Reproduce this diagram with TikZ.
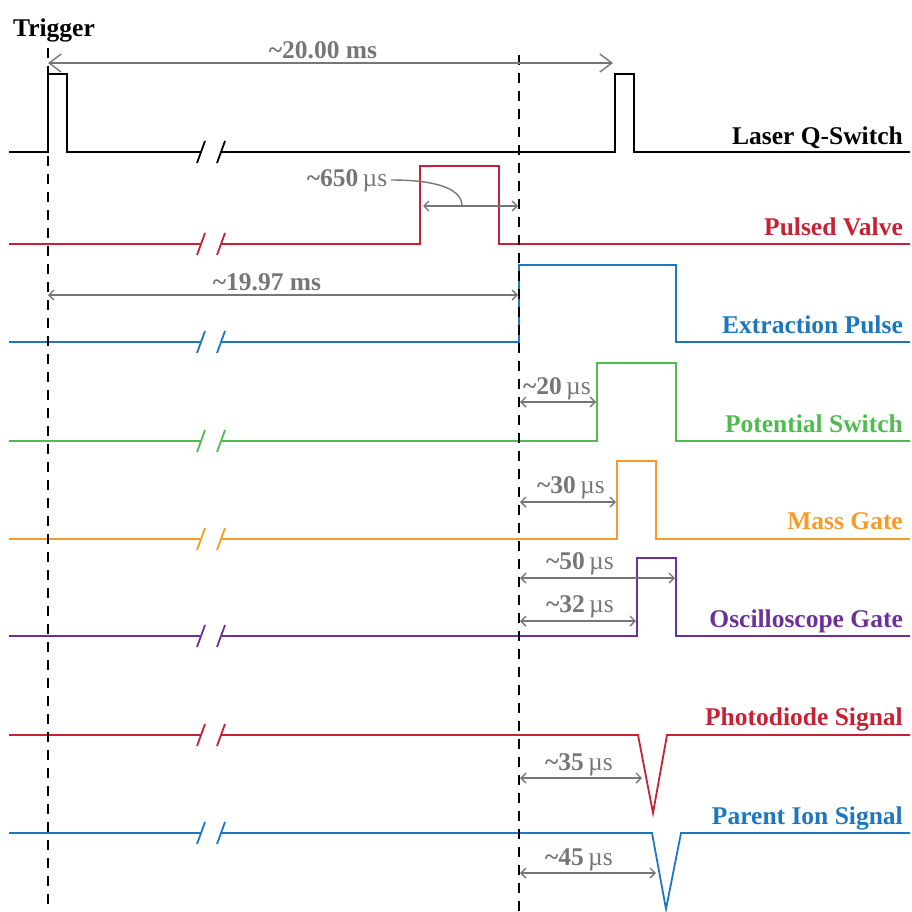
\documentclass[tikz,border=0pt]{standalone}
\usepackage{fontspec}
\setmainfont{Liberation Serif}
\usetikzlibrary{arrows.meta}
\definecolor{cgray}{RGB}{118,118,118}
\definecolor{cred}{RGB}{200,32,52}
\definecolor{cblue}{RGB}{28,118,192}
\definecolor{cgreen}{RGB}{78,188,78}
\definecolor{corange}{RGB}{246,154,40}
\definecolor{cpurple}{RGB}{108,48,150}
\tikzset{
  sig/.style={line width=1.8pt, line join=miter},
  brk/.style={line width=1.8pt},
  trig/.style={line width=1.8pt, dash pattern=on 10pt off 8pt},
  lbl/.style={anchor=base east, inner sep=0pt, font=\fontsize{25.5}{29}\selectfont\bfseries},
  glbl/.style={anchor=base, inner sep=0pt, text=cgray, font=\fontsize{25.5}{29}\selectfont\bfseries},
  dim/.style={line width=1.4pt, draw=cgray, {Straight Barb[length=5pt,width=10pt,line width=1.4pt]}-{Straight Barb[length=5pt,width=10pt,line width=1.4pt]}},
  bigdim/.style={line width=1.4pt, draw=cgray, {Straight Barb[length=12pt,width=18pt,line width=1.4pt]}-{Straight Barb[length=12pt,width=18pt,line width=1.4pt]}},
}
\newcommand{\us}{{\mdseries\,\textmu s}}
\begin{document}
\begin{tikzpicture}[x=1pt,y=-1pt]
\useasboundingbox (0,0) rectangle (912,911);
% break marks macro
\def\brkmarks#1#2{%
  \draw[brk,#2] (197,#1+11) -- (205,#1-11);
  \draw[brk,#2] (217,#1+11) -- (225,#1-11);}
% Laser Q-switch
\draw[sig,black] (9,152) -- (48,152) -- (48,74) -- (67,74) -- (67,152) -- (201,152);
\draw[sig,black] (221,152) -- (615,152) -- (615,74) -- (634,74) -- (634,152) -- (910,152);
\brkmarks{152}{black}
\node[lbl,text=black] (lq) at (903,144) {Laser Q-Switch};
% Pulsed valve
\draw[sig,cred] (9,244) -- (201,244);
\draw[sig,cred] (221,244) -- (420,244) -- (420,166) -- (499,166) -- (499,244) -- (910,244);
\brkmarks{244}{cred}
\node[lbl,text=cred] (lp) at (903,235) {Pulsed Valve};
% Extraction pulse
\draw[sig,cblue] (9,342) -- (201,342);
\draw[sig,cblue] (221,342) -- (519,342) -- (519,265) -- (676,265) -- (676,342) -- (910,342);
\brkmarks{342}{cblue}
\node[lbl,text=cblue] (le) at (903,333) {Extraction Pulse};
% Potential switch
\draw[sig,cgreen] (9,441) -- (201,441);
\draw[sig,cgreen] (221,441) -- (597,441) -- (597,363) -- (676,363) -- (676,441) -- (910,441);
\brkmarks{441}{cgreen}
\node[lbl,text=cgreen] (ls) at (903,432) {Potential Switch};
% Mass gate
\draw[sig,corange] (9,539) -- (201,539);
\draw[sig,corange] (221,539) -- (617,539) -- (617,461) -- (656,461) -- (656,539) -- (910,539);
\brkmarks{539}{corange}
\node[lbl,text=corange] (lm) at (903,529) {Mass Gate};
% Oscilloscope gate
\draw[sig,cpurple] (9,636) -- (201,636);
\draw[sig,cpurple] (221,636) -- (637,636) -- (637,558) -- (676,558) -- (676,636) -- (910,636);
\brkmarks{636}{cpurple}
\node[lbl,text=cpurple] (lo) at (903,627) {Oscilloscope Gate};
% Photodiode
\draw[sig,cred] (9,735) -- (201,735);
\draw[sig,cred] (221,735) -- (638,735) -- (653,813) -- (667,735) -- (910,735);
\brkmarks{735}{cred}
\node[lbl,text=cred] (ld) at (903,725) {Photodiode Signal};
% Parent ion
\draw[sig,cblue] (9,833) -- (201,833);
\draw[sig,cblue] (221,833) -- (652,833) -- (666,909) -- (681,833) -- (910,833);
\brkmarks{833}{cblue}
\node[lbl,text=cblue] (li) at (903,824) {Parent Ion Signal};
% trigger lines
\draw[trig] (48,48) -- (48,911);
\draw[trig] (519,55) -- (519,911);
\node[anchor=base west, inner sep=0pt, font=\fontsize{25.5}{29}\selectfont\bfseries] (tr) at (13,36) {Trigger};
% dimensions
\coordinate (a1) at (48,63); \coordinate (a2) at (613,63);
\draw[bigdim] (a1) -- (a2);
\node[glbl] (t1) at (323,58) {\textasciitilde20.00 ms};
\coordinate (b1) at (48,295); \coordinate (b2) at (518,295);
\draw[dim] (b1) -- (b2);
\node[glbl] (t2) at (267,290) {\textasciitilde19.97 ms};
\coordinate (c1) at (423,206); \coordinate (c2) at (518,206);
\draw[dim] (c1) -- (c2);
\node[glbl] (t3) at (347,186) {\textasciitilde650\us};
\draw[cgray,line width=1.4pt] (391,180) .. controls (440,180) and (462,190) .. (462,206);
\coordinate (d1) at (520,402); \coordinate (d2) at (596,402);
\draw[dim] (d1) -- (d2);
\node[glbl] (t4) at (557,394) {\textasciitilde20\us};
\coordinate (e1) at (520,502); \coordinate (e2) at (616,502);
\draw[dim] (e1) -- (e2);
\node[glbl] (t5) at (571,493) {\textasciitilde30\us};
\coordinate (f1) at (520,578); \coordinate (f2) at (675,578);
\draw[dim] (f1) -- (f2);
\node[glbl] (t6) at (580,569) {\textasciitilde50\us};
\coordinate (g1) at (520,621); \coordinate (g2) at (636,621);
\draw[dim] (g1) -- (g2);
\node[glbl] (t7) at (580,612) {\textasciitilde32\us};
\coordinate (h1) at (520,778); \coordinate (h2) at (642,778);
\draw[dim] (h1) -- (h2);
\node[glbl] (t8) at (579,770) {\textasciitilde35\us};
\coordinate (i1) at (520,873); \coordinate (i2) at (656,873);
\draw[dim] (i1) -- (i2);
\node[glbl] (t9) at (579,865) {\textasciitilde45\us};
\end{tikzpicture}
\end{document}
